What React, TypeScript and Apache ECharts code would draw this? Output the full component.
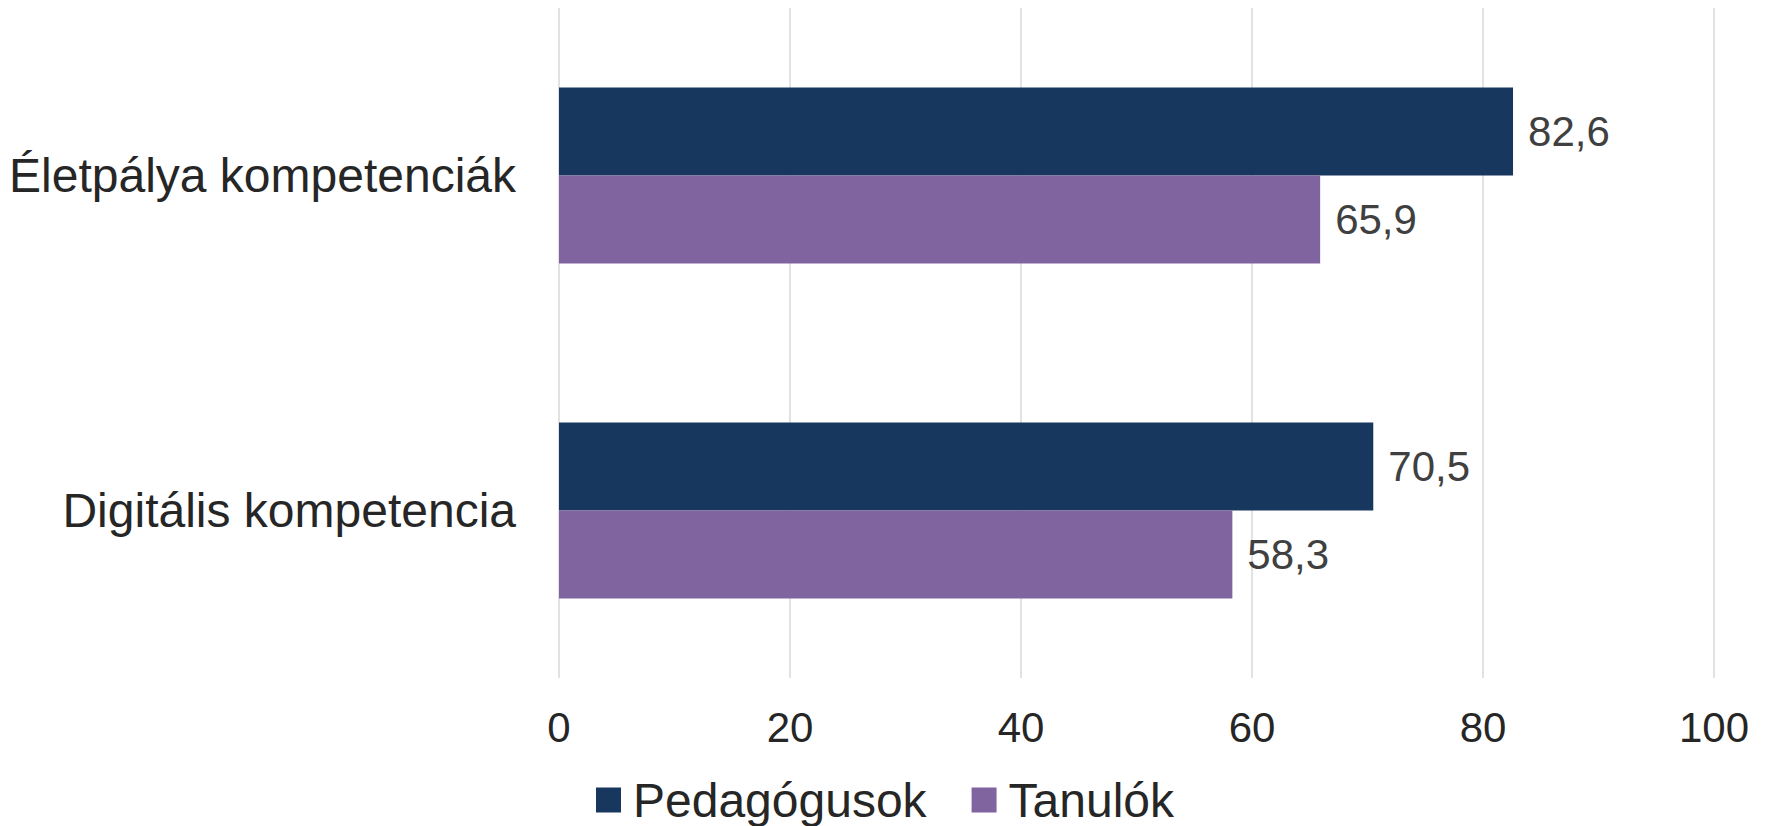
import React, { useEffect, useRef } from "react";
import * as echarts from "echarts";

const categories = ["Életpálya kompetenciák", "Digitális kompetencia"];
const seriesNames = ["Pedagógusok", "Tanulók"];
const pedagogusok = [82.6, 70.5];
const tanulok = [65.9, 58.3];
const xTicks = [0, 20, 40, 60, 80, 100];

const FONT = "'Liberation Sans', Arial, sans-serif";

export default function App() {
  const ref = useRef<HTMLDivElement>(null);
  useEffect(() => {
    if (!ref.current) return;
    const chart = echarts.init(ref.current, undefined, { renderer: "svg" });
    const fmt = (p: any) => String(p.value).replace(".", ",");
    chart.setOption({
      animation: false,
      backgroundColor: "#ffffff",
      textStyle: { fontFamily: FONT },
      grid: { left: 559, right: 51, top: 8, bottom: 148, containLabel: false },
      legend: {
        data: seriesNames,
        left: 596,
        top: 776,
        padding: 0,
        icon: "rect",
        itemWidth: 25,
        itemHeight: 25,
        itemGap: 45,
        textStyle: {
          fontSize: 48,
          lineHeight: 46,
          color: "#262626",
          fontFamily: FONT,
          padding: [0, 0, 0, 7],
        },
      },
      xAxis: {
        type: "value",
        min: xTicks[0],
        max: xTicks[xTicks.length - 1],
        interval: 20,
        axisLine: { show: false },
        axisTick: { show: false },
        splitLine: { show: true, lineStyle: { color: "#d9d9d9", width: 1.5 } },
        axisLabel: { fontSize: 42, color: "#262626", margin: 28, fontFamily: FONT },
      },
      yAxis: {
        type: "category",
        data: categories,
        inverse: true,
        axisLine: { show: false },
        axisTick: { show: false },
        splitLine: { show: false },
        axisLabel: { fontSize: 48, color: "#262626", margin: 43, fontFamily: FONT },
      },
      series: [
        {
          name: seriesNames[0],
          type: "bar",
          data: pedagogusok,
          barGap: "0%",
          barCategoryGap: "47.5%",
          itemStyle: { color: "#18375E" },
          label: { show: true, position: "right", distance: 15, fontSize: 42, color: "#404040", formatter: fmt, fontFamily: FONT },
        },
        {
          name: seriesNames[1],
          type: "bar",
          data: tanulok,
          barGap: "0%",
          barCategoryGap: "47.5%",
          itemStyle: { color: "#8064A0" },
          label: { show: true, position: "right", distance: 15, fontSize: 42, color: "#404040", formatter: fmt, fontFamily: FONT },
        },
      ],
    });
    return () => chart.dispose();
  }, []);
  return (
    <div
      ref={ref}
      style={{ position: "fixed", left: 0, top: 0, width: 1765, height: 826, background: "#fff" }}
    />
  );
}
